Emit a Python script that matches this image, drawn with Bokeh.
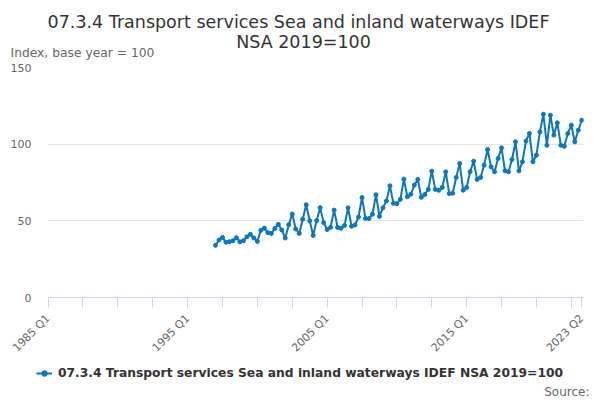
import math
from bokeh.plotting import figure
from bokeh.layouts import column
from bokeh.models import Range1d, FixedTicker, Label, Legend, LegendItem, ColumnDataSource
from bokeh.embed import file_html
from bokeh.resources import INLINE

# ---------------- data ----------------
title_lines = ["07.3.4 Transport services Sea and inland waterways IDEF", "NSA 2019=100"]
series_name = "07.3.4 Transport services Sea and inland waterways IDEF NSA 2019=100"
y_axis_title = "Index, base year = 100"
source_text = "Source:"

years = list(range(1985, 2024))
quarter_names = ["Q1", "Q2", "Q3", "Q4"]
categories = [f"{y} {q}" for y in years for q in quarter_names][:154]   # 1985 Q1 .. 2023 Q2

first_period = "1997 Q1"
sea_inland_values = [
    34.0, 37.5, 39.2, 36.0,      # 1997
    36.4, 37.0, 39.0, 36.3,      # 1998
    37.0, 39.6, 41.2, 38.8,      # 1999
    36.6, 43.8, 45.2, 42.3,      # 2000
    41.8, 45.0, 47.7, 44.0,      # 2001
    38.8, 47.5, 54.4, 44.7,      # 2002
    41.8, 51.0, 60.5, 50.0,      # 2003
    40.5, 50.2, 58.6, 48.8,      # 2004
    44.3, 45.8, 57.0, 45.7,      # 2005
    45.2, 47.0, 58.5, 46.5,      # 2006
    47.3, 52.5, 65.2, 51.6,      # 2007
    51.5, 54.3, 67.0, 52.9,      # 2008
    58.5, 63.0, 72.8, 61.4,      # 2009
    61.2, 64.0, 77.2, 65.7,      # 2010
    67.3, 73.3, 77.0, 65.3,      # 2011
    67.2, 70.5, 82.4, 70.5,      # 2012
    69.9, 71.8, 82.0, 67.8,      # 2013
    68.0, 78.3, 87.4, 70.0,      # 2014
    71.8, 82.0, 88.9, 77.0,      # 2015
    78.3, 86.3, 96.5, 85.2,      # 2016
    82.0, 90.7, 97.6, 82.6,      # 2017
    82.0, 90.0, 101.5, 82.6,     # 2018
    88.5, 102.1, 107.0, 88.5,    # 2019
    92.8, 108.0, 119.5, 99.3,    # 2020
    118.9, 105.9, 113.9, 99.3,   # 2021
    98.6, 107.0, 112.4, 101.5,   # 2022
    109.1, 115.6,                # 2023
]

x_tick_labels = ["1985 Q1", "1995 Q1", "2005 Q1", "2015 Q1", "2023 Q2"]
y_ticks = [0, 50, 100, 150]

# ---------------- derived positions ----------------
start = categories.index(first_period)
xs = list(range(start, start + len(sea_inland_values)))
last = len(categories) - 1
tick_positions = list(range(0, last, 10)) + [last]
labelled = {categories.index(l) for l in x_tick_labels}
overrides = {t: (categories[t] if t in labelled else "") for t in tick_positions}

source = ColumnDataSource(data=dict(x=xs, y=sea_inland_values,
                                    period=categories[start:start + len(sea_inland_values)]))

BLUE = "#0b77bd"
FONT = "DejaVu Sans"
W = 600
LINE_W = 2
DOT = 4

HEAD_H = 60
MAIN_TOP, FRAME_H, MAIN_BOTTOM = 7, 230, 66
MAIN_H = MAIN_TOP + FRAME_H + MAIN_BOTTOM
FOOT_H = 400 - HEAD_H - MAIN_H


def blank(height):
    f = figure(width=W, height=height, output_backend="svg", toolbar_location=None, tools="",
               x_range=Range1d(0, 1), y_range=Range1d(0, 1),
               x_axis_type=None, y_axis_type=None, frame_align=False,
               min_border_left=0, min_border_right=0, min_border_top=0, min_border_bottom=0)
    f.title.visible = False
    f.outline_line_color = None
    f.background_fill_color = "white"
    f.border_fill_color = "white"
    return f


def text(fig, x, y, s, size, color, align="left", style="normal"):
    fig.add_layout(Label(x=x, y=y, x_units="screen", y_units="screen", text=s,
                         text_align=align, text_baseline="middle", text_font=FONT,
                         text_font_size=size, text_font_style=style, text_color=color))


# ---------------- header: title + y axis title ----------------
head = blank(HEAD_H)
text(head, 298, 39, title_lines[0], "17.5px", "#333333", align="center")
text(head, 303, 19, title_lines[1], "17.5px", "#333333", align="center")
text(head, 10, 8, y_axis_title, "12.3px", "#666666")

# ---------------- main chart ----------------
p = figure(width=W, height=MAIN_H, output_backend="svg", toolbar_location=None, tools="",
           x_range=Range1d(-0.17, last + 0.5), y_range=Range1d(0, 150), frame_align=False,
           min_border_left=47, min_border_right=17, min_border_top=MAIN_TOP,
           min_border_bottom=MAIN_BOTTOM)
p.title.visible = False
p.outline_line_color = None
p.background_fill_color = "white"
p.border_fill_color = "white"

p.line("x", "y", source=source, line_color=BLUE, line_width=LINE_W)
p.scatter("x", "y", source=source, size=DOT, color=BLUE)

xa = p.xaxis[0]
xa.ticker = FixedTicker(ticks=tick_positions, minor_ticks=[])
xa.major_label_overrides = overrides
xa.major_label_orientation = math.pi / 4
xa.axis_line_color = "#ccd6eb"
xa.major_tick_line_color = "#ccd6eb"
xa.major_tick_out = 10
xa.major_tick_in = 0
xa.minor_tick_line_color = None
xa.major_label_text_color = "#666666"
xa.major_label_text_font = FONT
xa.major_label_text_font_size = "11px"
xa.major_label_standoff = 9

ya = p.yaxis[0]
ya.ticker = FixedTicker(ticks=y_ticks, minor_ticks=[])
ya.axis_line_color = None
ya.major_tick_line_color = None
ya.minor_tick_line_color = None
ya.major_tick_out = 0
ya.major_tick_in = 0
ya.major_label_standoff = 16
ya.major_label_text_color = "#666666"
ya.major_label_text_font = FONT
ya.major_label_text_font_size = "11px"

p.xgrid.visible = False
p.ygrid.grid_line_color = "#e6e6e6"
p.ygrid.grid_line_width = 1

# ---------------- footer: legend + source ----------------
# the footer's renderers share the series' data; its ranges keep them out of view,
# so only their legend glyph is drawn
foot = blank(FOOT_H)
lr = foot.line("x", "y", source=source, line_color=BLUE, line_width=LINE_W)
sr = foot.scatter("x", "y", source=source, size=DOT + 1, color=BLUE)
lg = Legend(items=[LegendItem(label=series_name, renderers=[lr, sr])],
            location=(36, 20), orientation="horizontal",
            padding=0, margin=0, spacing=0, glyph_width=16, glyph_height=14,
            label_height=14, label_standoff=6,
            border_line_alpha=0, background_fill_alpha=0,
            label_text_font=FONT, label_text_font_size="12.3px",
            label_text_font_style="bold", label_text_color="#333333")
foot.add_layout(lg)
text(foot, 589, 9, source_text, "12px", "#666666", align="right")

layout = column(head, p, foot, spacing=0)
open("out.html", "w").write(file_html(layout, INLINE))
